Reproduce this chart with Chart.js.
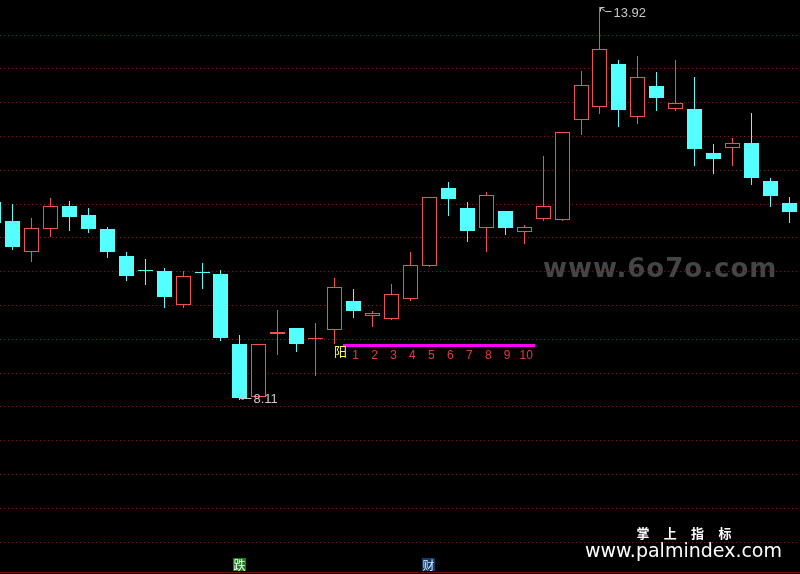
<!DOCTYPE html>
<html>
<head>
<meta charset="utf-8">
<script src="https://cdn.jsdelivr.net/npm/chart.js@4.4.1/dist/chart.umd.min.js"></script>
<style>
  html, body { margin: 0; padding: 0; background: #000; }
  #wrap { position: relative; width: 800px; height: 574px; }
</style>
</head>
<body>
<div id="wrap"><canvas id="kline"></canvas></div>
<script>
// ===== 日K数据 (第一根只露出半截) =====
const opens  = [11.03, 10.75, 10.29, 10.63, 10.97, 10.84, 10.63, 10.23, 10.02, 10.01, 9.51, 9.99, 9.96, 8.93, 8.14,
                9.07, 9.17, 9.01, 9.13, 9.57, 9.35, 9.30, 9.60, 10.09, 11.24, 10.94, 10.65, 10.90, 10.58, 10.78,
                10.77, 12.25, 12.44, 13.07, 12.29, 12.75, 12.41, 12.41, 11.75, 11.83, 11.90, 11.34, 11.01];
const highs  = [11.05, 11.00, 10.79, 11.09, 11.04, 10.94, 10.66, 10.29, 10.19, 10.05, 10.01, 10.13, 10.02, 9.06, 8.93,
                9.43, 9.17, 9.24, 9.91, 9.74, 9.41, 9.82, 10.29, 11.10, 11.33, 11.03, 11.18, 10.90, 10.69, 11.71,
                12.07, 12.97, 13.92, 13.13, 13.19, 12.95, 13.13, 12.88, 11.89, 11.98, 12.35, 11.38, 11.10];
const lows   = [10.70, 10.33, 10.16, 10.52, 10.61, 10.59, 10.21, 9.88, 9.82, 9.48, 9.48, 9.76, 8.99, 8.11, 8.14,
                8.78, 8.82, 8.47, 8.94, 9.33, 9.20, 9.30, 9.58, 10.09, 10.83, 10.46, 10.31, 10.55, 10.43, 10.76,
                10.77, 12.04, 12.34, 12.16, 12.20, 12.39, 12.39, 11.57, 11.46, 11.58, 11.30, 10.97, 10.73];
const closes = [10.72, 10.37, 10.64, 10.97, 10.81, 10.63, 10.29, 9.94, 10.01, 9.63, 9.93, 9.98, 9.02, 8.13, 8.93,
                9.11, 8.93, 9.02, 9.77, 9.41, 9.39, 9.67, 10.10, 11.10, 11.07, 10.60, 11.13, 10.65, 10.66, 10.97,
                12.07, 12.76, 13.29, 12.39, 12.88, 12.57, 12.49, 11.82, 11.67, 11.90, 11.38, 11.12, 10.88];

// 横向网格价位
const gridLevels = [6.0, 6.5, 7.0, 7.5, 8.0, 8.5, 9.0, 9.5, 10.0, 10.5, 11.0, 11.5, 12.0, 12.5, 13.0, 13.5];

// 信号
const yangIndex = 18;                 // 阳
const countLabels = ['1', '2', '3', '4', '5', '6', '7', '8', '9', '10'];
const dieIndex = 13;                  // 跌
const caiIndex = 23;                  // 财

const RED = '#f05050';
const CYAN = '#54ffff';

const klinePlugin = {
  id: 'kline',
  beforeDraw(chart) {
    const c = chart.ctx;
    c.save();
    c.fillStyle = '#000';
    c.fillRect(0, 0, chart.width, chart.height);
    // 水印
    c.font = 'bold 26px "DejaVu Sans"';
    c.letterSpacing = '1px';
    c.fillStyle = '#454545';
    c.textBaseline = 'alphabetic';
    c.textAlign = 'left';
    c.fillText('www.6o7o.com', 543, 277);
    c.restore();
  },
  afterDatasetsDraw(chart) {
    const c = chart.ctx;
    const xs = chart.scales.x, ys = chart.scales.y;
    const px = i => xs.getPixelForValue(i);
    const py = v => ys.getPixelForValue(v);
    c.save();

    // ===== K线 =====
    opens.forEach((o, i) => {
      const cl = closes[i];
      const left = Math.round(px(i) - 7.5);
      const mid = left + 7;
      const up = cl > o;
      const top = Math.round(py(Math.max(o, cl)));
      let bot = Math.round(py(Math.min(o, cl)));
      if (bot - top < 1) bot = top + 1;
      const yh = Math.round(py(highs[i]));
      const yl = Math.round(py(lows[i]));
      c.fillStyle = up ? RED : CYAN;
      c.fillRect(mid, yh, 1, yl - yh + 1);
      if (up && bot - top > 2) {
        c.fillStyle = '#000';
        c.fillRect(left, top, 15, bot - top);
        c.strokeStyle = RED;
        c.lineWidth = 1;
        c.strokeRect(left + 0.5, top + 0.5, 14, bot - top - 1);
      } else {
        c.fillRect(left, top, 15, bot - top);
      }
    });

    // ===== 最高 / 最低标注 =====
    const hi = highs.indexOf(Math.max(...highs));
    const lo = lows.indexOf(Math.min(...lows));
    c.strokeStyle = '#c8c8c8';
    c.fillStyle = '#c8c8c8';
    c.lineWidth = 1;
    c.font = '13px "Liberation Sans"';
    c.textBaseline = 'middle';
    c.textAlign = 'left';
    let x = Math.round(px(hi)) + 0.5, y = Math.round(py(highs[hi])) + 0.5;
    c.beginPath();
    c.moveTo(x + 4, y); c.lineTo(x, y); c.lineTo(x, y + 4);
    c.moveTo(x, y); c.lineTo(x + 5, y + 4); c.lineTo(x + 11, y + 4);
    c.stroke();
    c.fillText(highs[hi].toFixed(2), x + 13, y + 6);

    x = Math.round(px(lo)) + 0.5; y = Math.round(py(lows[lo])) - 0.5;
    c.beginPath();
    c.moveTo(x + 3, y - 3); c.lineTo(x, y); c.lineTo(x + 3, y + 1);
    c.moveTo(x, y); c.lineTo(x + 11, y);
    c.stroke();
    c.fillText(lows[lo].toFixed(2), x + 13, y + 1);

    // ===== 阳 + 计数 =====
    const base = py(lows[yangIndex]);
    c.fillStyle = '#ff00ff';
    c.fillRect(Math.round(px(yangIndex) + 8.5), Math.round(base + 1), Math.round(px(yangIndex + countLabels.length) + 11) - Math.round(px(yangIndex) + 8.5), 3);
    c.fillStyle = '#ffff54';
    c.font = '13px "Noto Sans CJK SC"';
    c.textBaseline = 'middle';
    c.fillText('阳', Math.round(px(yangIndex)) - 1, base + 7.5);
    c.fillStyle = '#e83838';
    c.font = '12px "Liberation Sans"';
    c.textAlign = 'center';
    countLabels.forEach((t, n) => {
      c.fillText(t, px(yangIndex + n + 1) + 2, base + 12.5);
    });

    // ===== 底部信号 =====
    const boxTop = chart.height - 16;
    [[dieIndex, '跌', '#1a801a', '#ffffff'], [caiIndex, '财', '#143a66', '#dfe8ff']].forEach(([i, t, bg, fg]) => {
      const l = Math.round(px(i) - 7);
      c.fillStyle = bg;
      c.fillRect(l, boxTop, 13, 13);
      c.fillStyle = fg;
      c.font = '12px "Noto Sans CJK SC"';
      c.textAlign = 'center';
      c.textBaseline = 'middle';
      c.fillText(t, l + 6.5, boxTop + 7);
    });

    // 底边
    c.fillStyle = '#7a0a0a';
    c.fillRect(0, chart.height - 2, chart.width, 1);

    // 右下角水印
    c.fillStyle = '#ffffff';
    c.font = 'bold 13px "Noto Sans CJK SC"';
    c.textAlign = 'center';
    c.textBaseline = 'middle';
    ['掌', '上', '指', '标'].forEach((t, n) => c.fillText(t, 643 + n * 27.3, 533));
    c.font = '19px "DejaVu Sans"';
    c.textAlign = 'left';
    c.textBaseline = 'alphabetic';
    c.fillText('www.palmindex.com', 585, 557);
    c.restore();
  }
};

new Chart(document.getElementById('kline'), {
  type: 'line',
  data: { datasets: [] },
  options: {
    responsive: true,
    maintainAspectRatio: false,
    animation: false,
    events: [],
    layout: { padding: 0 },
    plugins: { legend: { display: false }, tooltip: { enabled: false } },
    scales: {
      x: { type: 'linear', min: 0.3404, max: 42.556, display: false },
      y: {
        type: 'linear',
        min: 5.5267, max: 14.0178,
        afterBuildTicks: s => { s.ticks = gridLevels.map(v => ({ value: v })); },
        ticks: { display: false },
        grid: { color: '#7a1818', lineWidth: 1, drawTicks: false },
        border: { display: false, dash: [1, 3] }
      }
    }
  },
  plugins: [klinePlugin]
});
</script>
</body>
</html>
